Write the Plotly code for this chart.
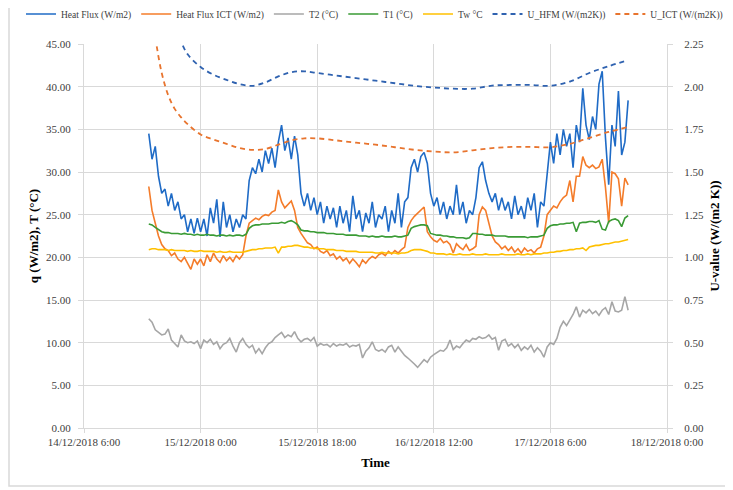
import plotly.graph_objects as go
from datetime import datetime, timedelta

# ---------------- data (30-min samples from 14/12/2018 16:00) ----------------
heat_flux = [
    34.5, 31.5, 33.0, 29.5, 27.5, 28.0, 26.0, 27.5, 25.5, 26.5,
    24.5, 25.0, 23.0, 24.5, 22.8, 24.6, 23.0, 24.5, 22.5, 25.8,
    24.0, 26.8, 22.4, 26.5, 23.5, 25.0, 23.0, 24.5, 23.5, 25.0,
    24.5, 29.0, 30.5, 29.8, 31.5, 30.0, 32.5, 31.0, 32.8, 30.5,
    33.5, 35.5, 32.5, 34.0, 31.5, 34.2, 32.0, 27.5, 26.0, 27.5,
    25.5, 27.0, 25.0, 26.5, 24.0, 26.0, 24.5, 25.8, 23.5, 26.0,
    24.0, 25.5, 23.0, 27.2, 24.5, 25.5, 23.0, 25.2, 24.0, 26.5,
    23.5, 25.0, 24.5, 26.0, 23.0, 25.5, 24.0, 27.5, 23.5, 26.5,
    27.0, 30.5, 31.5, 30.0, 31.8, 32.3, 31.0, 27.5, 26.0, 27.0,
    25.0, 26.5, 24.5, 26.0, 25.0, 28.5, 25.0, 26.5, 24.0, 25.5,
    25.0, 27.0, 30.5, 31.2, 29.0, 27.5, 26.5, 27.5, 25.5, 27.0,
    25.5, 26.5, 24.5, 27.2, 25.0, 26.0, 24.5, 27.0, 25.5, 27.5,
    23.5, 26.5, 26.0, 30.0, 33.5, 31.0, 34.5, 32.0, 35.0, 33.0,
    34.5, 30.5, 35.5, 33.5, 39.8, 35.5, 33.8, 36.5, 35.0, 40.3,
    41.8, 34.0, 28.5, 35.5, 33.0, 39.5, 32.0, 33.5, 38.4,
]

heat_flux_ict = [
    28.3, 25.5, 24.0, 22.5, 21.5, 21.0, 20.8, 20.2, 20.5, 19.8,
    19.5, 20.0, 19.3, 18.6, 19.8, 19.2, 19.8, 19.0, 20.3, 19.5,
    20.5, 19.8, 19.4, 20.2, 19.6, 20.0, 19.5, 20.2, 19.8, 20.3,
    22.5, 24.0, 24.3, 24.6, 24.4, 24.8, 25.0, 24.9, 25.3, 25.5,
    27.9, 26.5, 25.8, 26.2, 26.6, 25.5, 23.5, 22.8, 22.2, 21.7,
    21.5, 21.0, 21.2, 20.7, 20.5, 20.8, 20.2, 20.4, 19.8, 20.1,
    19.6, 19.9, 19.3, 19.8, 19.4, 18.9, 19.7, 19.3, 19.8, 20.1,
    19.9, 20.3, 20.5, 20.2, 20.7, 20.4, 20.8, 20.5, 20.9, 21.2,
    23.5, 24.3, 24.8, 25.2, 25.5, 25.9, 23.0, 22.4, 22.0, 21.8,
    22.2, 21.7, 21.9, 21.5, 20.5, 21.6, 21.2, 20.9, 21.5, 20.8,
    21.0, 21.3, 25.0, 25.9, 25.5, 24.0, 22.5, 21.8, 21.5, 21.0,
    21.3, 20.8, 21.2, 20.6, 21.0, 20.5, 21.1, 20.7, 20.9, 20.5,
    21.0, 21.2, 22.5, 25.0, 25.5, 26.0, 25.8, 26.5, 27.0, 27.3,
    29.0, 26.5, 29.5, 29.5, 31.8, 30.8, 30.5, 30.8, 30.4, 30.6,
    31.5, 28.2, 24.0, 30.0, 29.8, 29.2, 26.0, 29.3, 28.5,
]

t2 = [
    12.8, 12.4, 11.5, 11.2, 10.9, 11.0, 11.6, 10.3, 9.9, 9.5,
    10.9, 10.2, 10.0, 10.1, 9.9, 10.2, 9.3, 10.3, 10.0, 10.4,
    9.8, 10.1, 9.3, 9.8, 10.0, 10.5, 9.6, 8.9, 10.0, 10.5,
    9.8, 9.4, 9.7, 8.8, 9.3, 8.7, 9.4, 9.9, 10.1, 10.6,
    10.9, 11.2, 10.6, 10.9, 10.7, 11.3, 10.5, 10.1, 10.4, 10.5,
    10.2, 10.6, 9.6, 9.9, 9.7, 9.8, 9.5, 9.9, 9.6, 9.8,
    9.7, 9.9, 9.5, 9.7, 9.6, 9.8, 8.2, 9.0, 9.4, 10.1,
    9.2, 9.0, 9.2, 8.9, 9.5, 9.7, 8.9, 9.5, 9.0, 8.5,
    8.2, 7.9, 7.5, 7.1, 7.6, 8.0, 7.7, 8.3, 8.6, 8.9,
    9.1, 9.0, 9.4, 10.3, 9.2, 9.6, 9.4, 9.9, 10.3, 10.1,
    10.5, 10.4, 10.7, 10.5, 10.6, 10.9, 10.4, 10.6, 9.1, 10.2,
    10.4, 9.6, 9.9, 9.4, 9.8, 9.1, 9.5, 9.2, 9.7, 8.9,
    9.4, 9.0, 8.3, 9.5, 10.0, 9.8, 10.5, 11.8, 12.5, 12.0,
    12.7, 13.3, 14.2, 13.0, 13.8, 13.5, 13.9, 13.4, 13.7, 13.2,
    13.8, 14.1, 13.3, 14.8, 13.7, 13.6, 13.8, 15.4, 13.8,
]

t1 = [
    23.9, 23.8, 23.5, 23.2, 23.0, 22.9, 22.9, 22.8, 22.8, 22.8,
    22.7, 22.8, 22.7, 22.7, 22.6, 22.7, 22.6, 22.6, 22.7, 22.6,
    22.6, 22.5, 22.6, 22.6, 22.5, 22.6, 22.5, 22.6, 22.6, 22.5,
    22.7,
    23.4, 23.7, 23.8, 23.8, 23.9, 23.9, 23.9, 24.0, 24.0, 24.0,
    24.1, 24.0, 24.2, 24.3, 24.1, 23.8,
    23.2, 23.1, 23.1, 23.0, 23.0, 22.9, 22.9, 22.9, 22.8, 22.8,
    22.8, 22.7, 22.7, 22.7, 22.6, 22.6, 22.6, 22.6, 22.5, 22.5,
    22.5, 22.4, 22.5, 22.4, 22.4, 22.5, 22.4, 22.4, 22.4, 22.5,
    22.4, 22.4, 22.5, 22.6,
    23.4, 23.6, 23.7, 23.8, 23.8, 23.7,
    22.8, 22.7, 22.6, 22.6, 22.5, 22.5, 22.4, 22.4, 22.3, 22.3,
    22.3, 22.2, 22.3, 22.8, 22.8, 22.7, 22.7, 22.6, 22.6, 22.6,
    22.5, 22.5, 22.5, 22.5, 22.4, 22.4, 22.4, 22.4, 22.4, 22.4,
    22.3, 22.4, 22.4, 22.4, 22.5, 22.6,
    23.4, 23.7, 23.8, 23.8, 23.9, 23.9, 24.0, 24.0, 24.1, 23.0,
    24.0, 24.1, 24.1, 24.2, 24.2, 24.1, 24.3, 23.3, 23.2, 24.2,
    24.4, 24.5, 24.3, 23.6, 24.6, 24.9,
]

tw = [
    20.9, 21.0, 21.0, 20.9, 20.9, 20.9, 20.8, 20.9, 20.8, 20.8,
    20.8, 20.8, 20.7, 20.8, 20.7, 20.7, 20.8, 20.7, 20.7, 20.7,
    20.7, 20.6, 20.7, 20.6, 20.6, 20.7, 20.6, 20.6, 20.6, 20.6,
    20.7,
    20.8, 20.9, 20.9, 21.0, 21.0, 21.1, 21.1, 21.1, 21.2, 20.5,
    21.2, 21.2, 21.3, 21.3, 21.4, 21.4,
    21.3, 21.2, 21.2, 21.1, 21.1, 21.0, 21.0, 21.0, 20.9, 20.9,
    20.9, 20.8, 20.8, 20.8, 20.7, 20.7, 20.7, 20.7, 20.6, 20.6,
    20.6, 20.6, 20.6, 20.5, 20.5, 20.6, 20.5, 20.5, 20.5, 20.5,
    20.4, 20.5, 20.5, 20.6,
    20.8, 20.9, 20.9, 20.9, 20.8, 20.7,
    20.5, 20.5, 20.4, 20.4, 20.4, 20.3, 20.4, 20.3, 20.3, 20.4,
    20.3, 20.3, 20.3, 20.4, 20.3, 20.3, 20.3, 20.4, 20.3, 20.3,
    20.3, 20.3, 20.4, 20.3, 20.3, 20.3, 20.3, 20.4, 20.3, 20.3,
    20.4, 20.3, 20.4, 20.4, 20.4, 20.5,
    20.5, 20.6, 20.6, 20.7, 20.7, 20.8, 20.8, 20.9, 20.9, 21.0,
    21.0, 21.1, 20.8, 21.2, 21.3, 21.4, 21.4, 21.5, 21.6, 21.6,
    21.7, 21.8, 21.8, 21.9, 22.0, 22.1,
]

# U-values (hours since 14/12/2018 0:00)
u_hours = [16, 17, 18, 19, 20, 21, 22, 24, 26, 28, 30, 32, 34, 36, 38, 40, 42,
           45, 48, 51, 54, 57, 60, 63, 66, 69, 72, 75, 78, 81, 84, 87, 90]
u_hfm = [3.00, 2.75, 2.55, 2.42, 2.33, 2.26, 2.19, 2.115, 2.07, 2.04, 2.015,
         2.005, 2.025, 2.06, 2.085, 2.09, 2.08, 2.065, 2.05, 2.035, 2.02, 2.005,
         1.995, 1.988, 1.988, 2.006, 2.01, 2.01, 2.005, 2.03, 2.08, 2.12, 2.155]
u_ict = [2.55, 2.29, 2.08, 1.95, 1.87, 1.82, 1.78, 1.72, 1.69, 1.665, 1.64,
         1.63, 1.635, 1.66, 1.685, 1.697, 1.697, 1.685, 1.672, 1.66, 1.645, 1.63,
         1.62, 1.615, 1.627, 1.64, 1.647, 1.647, 1.645, 1.665, 1.70, 1.735, 1.763]

x_tick_text = ["14/12/2018 6:00", "15/12/2018 0:00", "15/12/2018 18:00",
               "16/12/2018 12:00", "17/12/2018 6:00", "18/12/2018 0:00"]

# ---------------- build ----------------
start = datetime(2018, 12, 14, 16, 0)
times = [start + timedelta(minutes=30 * i) for i in range(len(heat_flux))]
day0 = datetime(2018, 12, 14)
u_times = [day0 + timedelta(hours=h) for h in u_hours]
x_tick_vals = [datetime(2018, 12, 14, 6) + timedelta(hours=18 * i) for i in range(6)]

FONT = "Liberation Serif, Times New Roman, serif"
GRID = "#d9d9d9"
TICK = "#404040"

fig = go.Figure()
fig.add_trace(go.Scatter(x=times, y=heat_flux, name="Heat Flux (W/m2)", mode="lines",
                         legend="legend", line=dict(color="#1F6BC6", width=1.6)))
fig.add_trace(go.Scatter(x=times, y=heat_flux_ict, name="Heat Flux ICT (W/m2)", mode="lines",
                         legend="legend", line=dict(color="#F47C2A", width=1.6)))
fig.add_trace(go.Scatter(x=times, y=t2, name="T2 (°C)", mode="lines",
                         legend="legend", line=dict(color="#A6A6A6", width=1.6)))
fig.add_trace(go.Scatter(x=times, y=t1, name="T1 (°C)", mode="lines",
                         legend="legend", line=dict(color="#3A9B35", width=1.6)))
fig.add_trace(go.Scatter(x=times, y=tw, name="Tw °C", mode="lines",
                         legend="legend2", line=dict(color="#FFC000", width=1.6)))
fig.add_trace(go.Scatter(x=u_times, y=u_hfm, name="U_HFM (W/(m2K))", mode="lines",
                         yaxis="y2", legend="legend2",
                         line=dict(color="#2F62B0", width=1.8, dash="5px,4px",
                                   shape="spline", smoothing=1.0)))
fig.add_trace(go.Scatter(x=u_times, y=u_ict, name="U_ICT (W/(m2K))", mode="lines",
                         yaxis="y2", legend="legend2",
                         line=dict(color="#E8742E", width=1.8, dash="5px,4px",
                                   shape="spline", smoothing=1.0)))

# page body has an 8px margin: figure is drawn 8px right/down of the window origin
W, H = 725, 482
L, R, T, B = 76, 66, 36, 62
PW = W - L - R
PH = H - T - B
split_x = (410 - L) / PW
leg_common = dict(orientation="h", yref="container", y=1 - 6 / H, yanchor="middle",
                  font=dict(size=9.5, color=TICK, family=FONT), itemwidth=30,
                  bgcolor="rgba(0,0,0,0)", borderwidth=0)

fig.update_layout(
    width=W, height=H,
    margin=dict(l=L, r=R, t=T, b=B, autoexpand=False),
    paper_bgcolor="white", plot_bgcolor="white",
    font=dict(family=FONT, size=11, color=TICK),
    showlegend=True,
    legend=dict(x=split_x, xanchor="right", **leg_common),
    legend2=dict(x=split_x, xanchor="left", **leg_common),
    xaxis=dict(type="date", automargin=False,
               range=[x_tick_vals[0], x_tick_vals[-1]],
               tickmode="array", tickvals=x_tick_vals, ticktext=x_tick_text,
               showgrid=True, gridcolor=GRID, gridwidth=1,
               showline=True, linecolor=GRID, linewidth=1,
               ticks="outside", ticklen=4, tickcolor=GRID,
               tickfont=dict(size=11, color=TICK, family=FONT),
               title=dict(text="<b>Time</b>", font=dict(size=13, color="#000000", family=FONT), standoff=10),
               zeroline=False),
    yaxis=dict(range=[0, 45], dtick=5, tickformat=".2f", automargin=False,
               showgrid=True, gridcolor=GRID, gridwidth=1,
               showline=True, linecolor=GRID, linewidth=1,
               ticks="outside", ticklen=5, tickcolor=GRID, ticklabelstandoff=5,
               tickfont=dict(size=11, color=TICK, family=FONT),
               title=dict(text="<b>q (W/m2), T (°C)</b>", font=dict(size=13, color="#000000", family=FONT), standoff=4),
               zeroline=False),
    yaxis2=dict(range=[0, 2.25], dtick=0.25, tickformat=".2f", automargin=False,
                overlaying="y", side="right", showgrid=False,
                showline=True, linecolor=GRID, linewidth=1,
                ticks="outside", ticklen=5, tickcolor=GRID, ticklabelstandoff=9,
                tickfont=dict(size=11, color=TICK, family=FONT),
                title=dict(text="<b>U-value (W/(m2 K))</b>", font=dict(size=13, color="#000000", family=FONT), standoff=6),
                zeroline=False),
)

# outer chart border (window px 9..728 x 6..486)
fig.add_shape(type="rect", xref="paper", yref="paper",
              x0=(1 - L) / PW, x1=(720 - L) / PW,
              y0=-((478) - (T + PH)) / PH, y1=(T + PH + 2) / PH,
              line=dict(color=GRID, width=1.5), fillcolor="rgba(0,0,0,0)", layer="below")

fig.write_html("out.html")
